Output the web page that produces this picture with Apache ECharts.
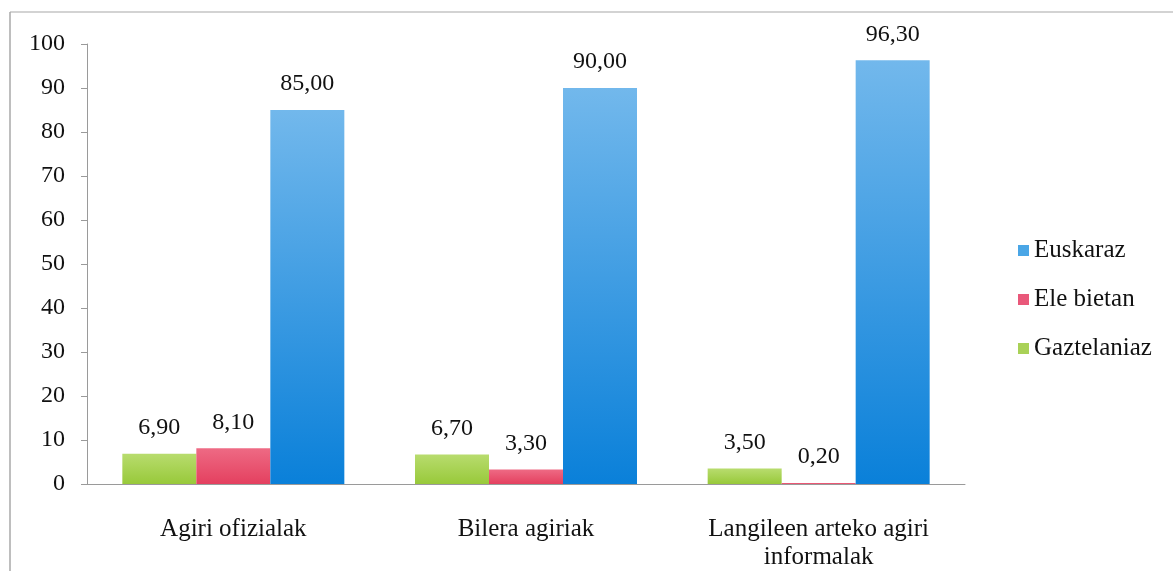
<!DOCTYPE html>
<html>
<head>
<meta charset="utf-8">
<title>Agirien hizkuntza</title>
<script src="https://cdn.jsdelivr.net/npm/echarts@6/dist/echarts.min.js"></script>
<style>
  html, body { margin: 0; padding: 0; background: #ffffff; }
  #chart { width: 1173px; height: 571px; }
</style>
</head>
<body>
<div id="chart"></div>
<script>
// Document types on the category axis
const categories = ['Agiri ofizialak', 'Bilera agiriak', 'Langileen arteko agiri\ninformalak'];

// Percentages by language of the documents
const gaztelaniaz = [6.9, 6.7, 3.5];
const eleBietan = [8.1, 3.3, 0.2];
const euskaraz = [85.0, 90.0, 96.3];

// Value axis
const yMin = 0;
const yMax = 100;
const yStep = 10;

const FONT = '"Liberation Serif", "DejaVu Serif", serif';
const INK = '#111111';

function vgrad(top, bottom) {
  return new echarts.graphic.LinearGradient(0, 0, 0, 1, [
    { offset: 0, color: top },
    { offset: 1, color: bottom }
  ]);
}

function fmt(v) {
  return v.toFixed(2).replace('.', ',');
}

const labelStyle = {
  show: true,
  position: 'top',
  distance: 14,
  fontFamily: FONT,
  fontSize: 24,
  color: INK,
  formatter: p => fmt(p.value)
};

const chart = echarts.init(document.getElementById('chart'), null, { renderer: 'canvas' });

chart.setOption({
  backgroundColor: '#ffffff',
  animation: false,
  graphic: [
    // outer frame: top and left edges
    { type: 'line', shape: { x1: 10, y1: 12, x2: 1173, y2: 12 }, style: { stroke: '#c4c4c4', lineWidth: 1.5 } },
    { type: 'line', shape: { x1: 10, y1: 12, x2: 10, y2: 571 }, style: { stroke: '#a8a8a8', lineWidth: 1.5 } }
  ],
  grid: { left: 87, right: 208, top: 44, bottom: 87, containLabel: false },
  legend: {
    orient: 'vertical',
    left: 1013,
    top: 233,
    itemWidth: 11,
    itemHeight: 11,
    itemGap: 24,
    icon: 'rect',
    data: [
      { name: 'Euskaraz', itemStyle: { color: '#4aa6e6' } },
      { name: 'Ele bietan', itemStyle: { color: '#e9587a' } },
      { name: 'Gaztelaniaz', itemStyle: { color: '#a9d157' } }
    ],
    textStyle: { fontFamily: FONT, fontSize: 25, color: INK, lineHeight: 25 }
  },
  xAxis: {
    type: 'category',
    data: categories,
    axisLine: { lineStyle: { color: '#9a9a9a', width: 1 } },
    axisTick: { show: false },
    axisLabel: {
      margin: 31,
      fontFamily: FONT,
      fontSize: 25,
      lineHeight: 28,
      color: INK,
      interval: 0
    }
  },
  yAxis: {
    type: 'value',
    min: yMin,
    max: yMax,
    interval: yStep,
    axisLine: { show: true, lineStyle: { color: '#9a9a9a', width: 1 } },
    axisTick: { show: true, length: 6, lineStyle: { color: '#9a9a9a' } },
    splitLine: { show: false },
    axisLabel: {
      margin: 22,
      fontFamily: FONT,
      fontSize: 24,
      color: INK
    }
  },
  series: [
    {
      name: 'Gaztelaniaz',
      type: 'bar',
      data: gaztelaniaz,
      barWidth: 74,
      barGap: '0%',
      itemStyle: { color: vgrad('#b8dc6e', '#98c93a') },
      label: labelStyle
    },
    {
      name: 'Ele bietan',
      type: 'bar',
      data: eleBietan,
      barWidth: 74,
      barGap: '0%',
      itemStyle: { color: vgrad('#ee6a84', '#e4405f') },
      label: labelStyle
    },
    {
      name: 'Euskaraz',
      type: 'bar',
      data: euskaraz,
      barWidth: 74,
      barGap: '0%',
      itemStyle: { color: vgrad('#72b8ec', '#0a80d9') },
      label: labelStyle
    }
  ]
});
</script>
</body>
</html>
